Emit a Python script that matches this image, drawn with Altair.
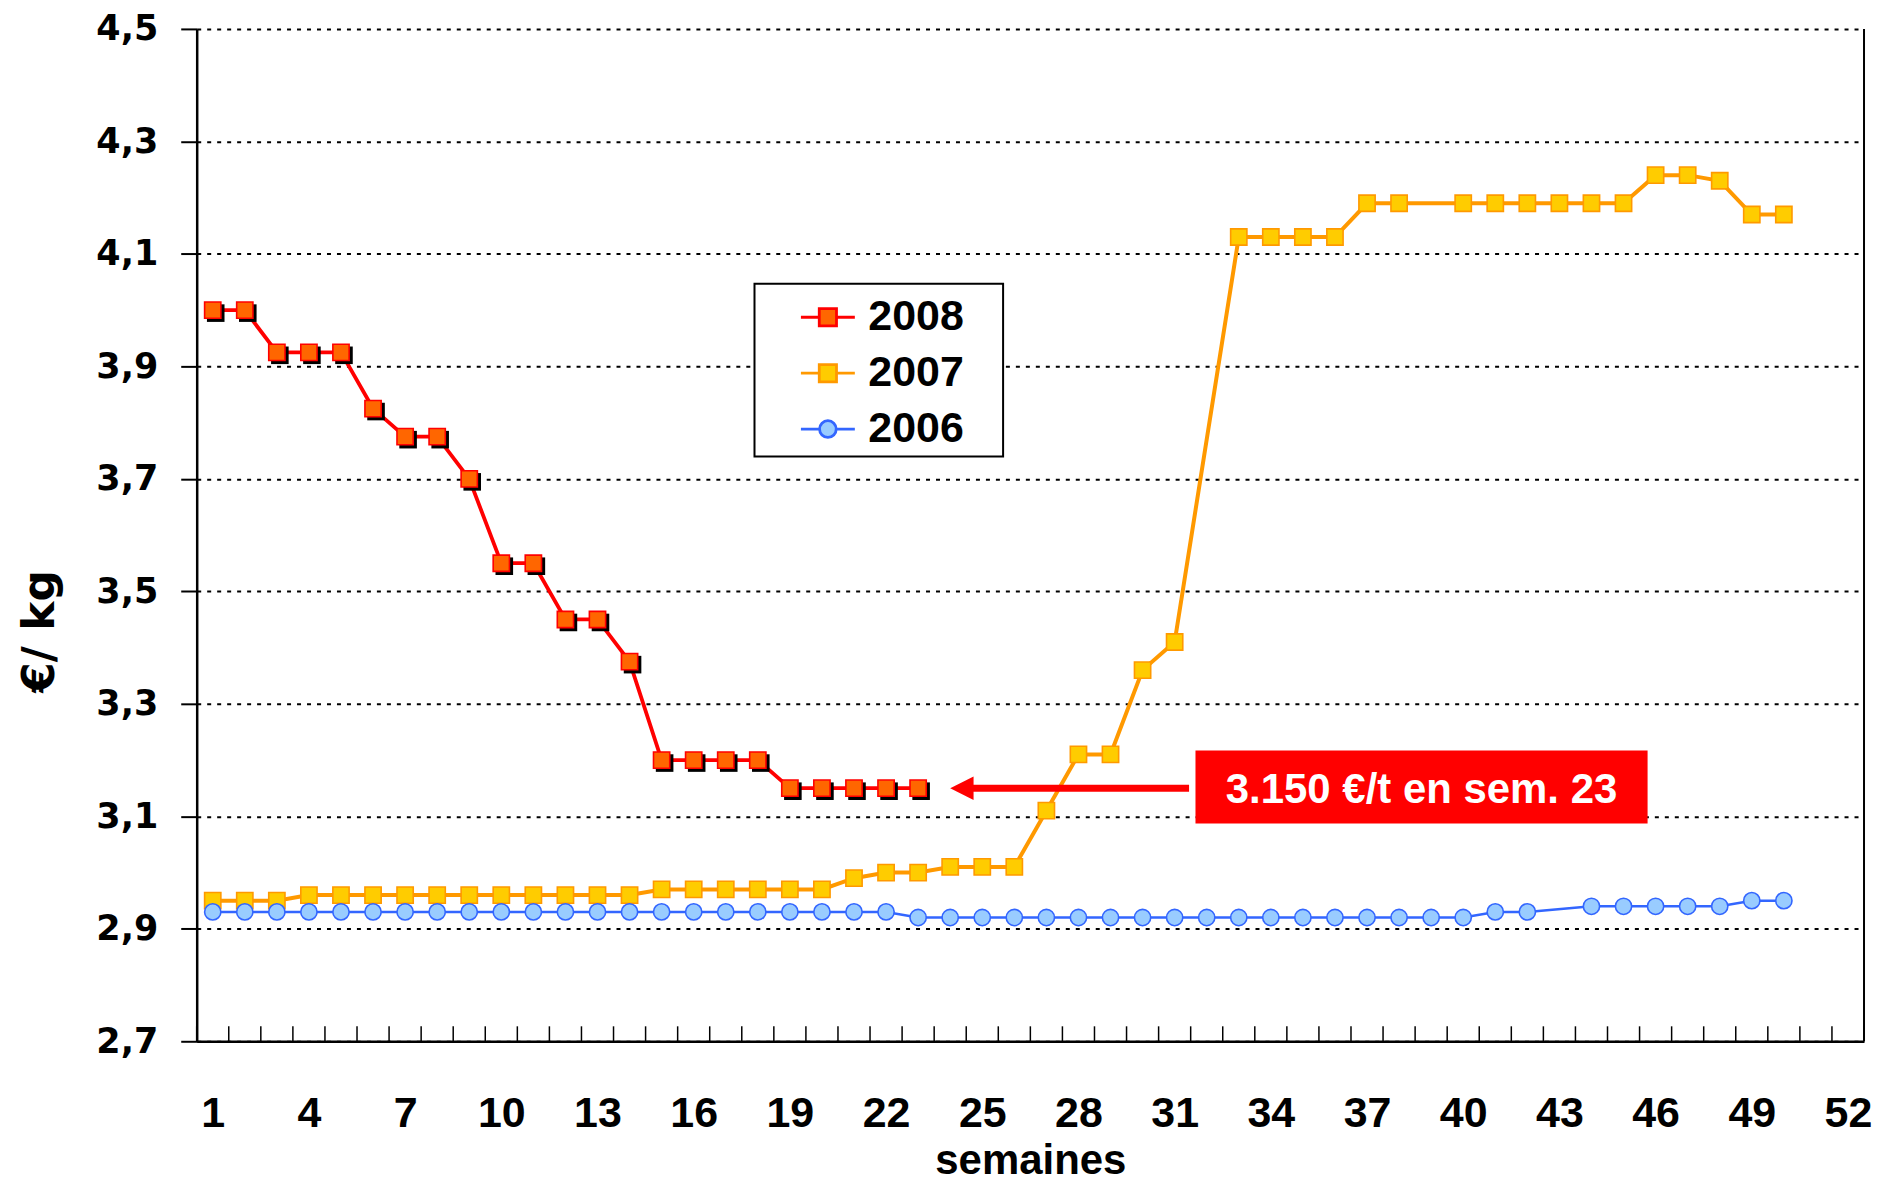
import altair as alt
import pandas as pd

# ---------------- data ----------------
annees = ["2008", "2007", "2006"]

semaines_2008 = list(range(1, 24))
prix_2008 = [4.00, 4.00, 3.925, 3.925, 3.925, 3.825, 3.775, 3.775, 3.70, 3.55,
             3.55, 3.45, 3.45, 3.375, 3.20, 3.20, 3.20, 3.20, 3.15, 3.15,
             3.15, 3.15, 3.15]

semaines_2007 = list(range(1, 32)) + list(range(33, 39)) + list(range(40, 51))
prix_2007 = [2.95, 2.95, 2.95,
             2.96, 2.96, 2.96, 2.96, 2.96, 2.96, 2.96, 2.96, 2.96, 2.96, 2.96,
             2.97, 2.97, 2.97, 2.97, 2.97, 2.97,
             2.99, 3.00, 3.00, 3.01, 3.01, 3.01, 3.11, 3.21, 3.21, 3.36, 3.41,
             4.13, 4.13, 4.13, 4.13, 4.19, 4.19,
             4.19, 4.19, 4.19, 4.19, 4.19, 4.19, 4.24, 4.24, 4.23, 4.17, 4.17]

semaines_2006 = list(range(1, 43)) + list(range(44, 51))
prix_2006 = [2.93] * 22 + [2.92] * 18 + [2.93, 2.93] + [2.94] * 5 + [2.95, 2.95]

couleurs_ligne = ["#FF0000", "#FF9900", "#3366FF"]
couleurs_remplissage = ["#FF6600", "#FFCC00", "#99CCFF"]
epaisseurs_ligne = [3.8, 4, 2.5]
marqueurs = ["square", "square", "circle"]

y_ticks = [2.7, 2.9, 3.1, 3.3, 3.5, 3.7, 3.9, 4.1, 4.3, 4.5]
x_ticks = list(range(1, 53, 3))
x_domaine = [0.5, 52.5]
y_domaine = [2.7, 4.5]

annotation_texte = "3.150 €/t en sem. 23"
annotation_prix = 3.15
fleche_semaine_pointe = 24
fleche_semaine_debut = 24.6
fleche_semaine_fin = 31.45
boite_semaines = [31.65, 45.75]
boite_prix = [3.087, 3.217]

# ---------------- tables ----------------
rows = []
for annee, sem, prix, marq in zip(annees, [semaines_2008, semaines_2007, semaines_2006],
                                  [prix_2008, prix_2007, prix_2006], marqueurs):
    for s, p in zip(sem, prix):
        rows.append({"semaine": s, "prix": p, "annee": annee, "marqueur": marq})
df = pd.DataFrame(rows)

limites = pd.DataFrame({"semaine": [s - 0.5 for s in range(1, 54)]})
bord = pd.DataFrame({"semaine": [x_domaine[1]]})
fleche = pd.DataFrame({"semaine": [fleche_semaine_debut], "semaine2": [fleche_semaine_fin],
                       "prix": [annotation_prix]})
pointe = pd.DataFrame({"semaine": [fleche_semaine_pointe], "prix": [annotation_prix]})
boite = pd.DataFrame({"semaine": [boite_semaines[0]], "semaine2": [boite_semaines[1]],
                      "prix": [boite_prix[0]], "prix2": [boite_prix[1]],
                      "centre": [(boite_semaines[0] + boite_semaines[1]) / 2],
                      "milieu": [annotation_prix], "texte": [annotation_texte]})

W, H = 1670, 1014

x_scale = alt.Scale(domain=x_domaine, nice=False, zero=False)
y_scale = alt.Scale(domain=y_domaine, nice=False, zero=False)

x_axis = alt.Axis(values=x_ticks, format="d", title="semaines", grid=False,
                  ticks=False, tickSize=0, domainColor="black", domainWidth=2.5,
                  labelFont="Liberation Sans", labelFontSize=43, labelFontWeight="bold",
                  labelColor="black", labelBaseline="alphabetic", labelPadding=85,
                  labelFlush=False, labelOverlap=False,
                  titleFont="Liberation Sans", titleFontSize=42, titleFontWeight="bold",
                  titleColor="black", titleBaseline="alphabetic", titleAlign="center",
                  titleX=W / 2, titleY=132)

y_axis = alt.Axis(values=y_ticks,
                  labelExpr="replace(format(datum.value, '.1f'), '.', ',')",
                  title="€/ kg", grid=True, gridColor="black", gridDash=[4, 6], gridWidth=2,
                  tickColor="black", tickSize=16, tickWidth=2,
                  domainColor="black", domainWidth=2.5,
                  labelFont="DejaVu Sans", labelFontSize=35, labelFontWeight="bold",
                  labelColor="black", labelPadding=23, labelFlush=False, labelOverlap=False,
                  titleFont="DejaVu Sans", titleFontSize=44, titleFontWeight="bold",
                  titleColor="black", titleAngle=270, titleAlign="center",
                  titleBaseline="middle", titleX=-156, titleY=603)

symbole = ("datum.value == '2006' ? "
           "'M-1,0H-0.31M0.31,0H1M0.31,0A0.31,0.31,0,1,1,-0.31,0A0.31,0.31,0,1,1,0.31,0Z' : "
           "'M-1,0H-0.32M0.32,0H1M-0.32,-0.32H0.32V0.32H-0.32Z'")

legende = alt.Legend(title="\u00a0", titleOrient="right", titlePadding=34, titleFontSize=2,
                     orient="none", legendX=558.7, legendY=255.3, padding=5,
                     symbolType=alt.ExprRef(expr=symbole), symbolSize=2916,
                     symbolStrokeWidth=2.8, symbolOffset=40, labelOffset=12,
                     labelFont="Liberation Sans", labelFontSize=43, labelFontWeight="bold",
                     labelColor="black",
                     strokeColor="black", fillColor="white", rowPadding=5, cornerRadius=0)

stroke_enc = alt.Stroke("annee:N", scale=alt.Scale(domain=annees, range=couleurs_ligne),
                        legend=legende)
fill_enc = alt.Fill("annee:N", scale=alt.Scale(domain=annees, range=couleurs_remplissage),
                    legend=legende)

X = alt.X("semaine:Q", scale=x_scale, axis=x_axis)
Y = alt.Y("prix:Q", scale=y_scale, axis=y_axis)
Xs = alt.X("semaine:Q", scale=x_scale, title="semaines")
Ys = alt.Y("prix:Q", scale=y_scale, title="€/ kg")

base = alt.Chart(df).encode(x=X, y=Y)

ticks_x = alt.Chart(limites).mark_rule(color="black", strokeWidth=1.5).encode(
    x=Xs, y=alt.value(H), y2=alt.value(H - 15))

bord_droit = alt.Chart(bord).mark_rule(color="black", strokeWidth=2).encode(x=Xs)

lignes = [
    base.transform_filter(alt.datum.annee == annee).mark_line(strokeWidth=ep).encode(
        stroke=stroke_enc)
    for annee, ep in zip(annees, epaisseurs_ligne)
]

ombre = base.transform_filter("datum.annee == '2008'").mark_point(
    filled=True, shape="square", size=310, color="black", opacity=1, xOffset=3, yOffset=3)

points = base.mark_point(filled=True, size=265, strokeWidth=1.6, opacity=1).encode(
    fill=fill_enc, stroke=stroke_enc,
    shape=alt.Shape("marqueur:N", scale=None, legend=None))

tige = alt.Chart(fleche).mark_rule(color="#FF0000", strokeWidth=7, strokeCap="butt").encode(
    x=Xs, x2="semaine2:Q", y=Ys)

tete = alt.Chart(pointe).mark_point(shape="M-1,0L1,-1L1,1Z", filled=True, color="#FF0000",
                                    size=548, opacity=1, strokeWidth=0, xOffset=11.7).encode(
    x=Xs, y=Ys)

rect = alt.Chart(boite).mark_rect(color="#FF0000").encode(
    x=Xs, x2="semaine2:Q", y=Ys, y2="prix2:Q")

texte = alt.Chart(boite).mark_text(font="Liberation Sans", fontSize=42, fontWeight="bold",
                                   color="white", baseline="alphabetic", align="center",
                                   dy=15).encode(
    x=alt.X("centre:Q", scale=x_scale, title="semaines"),
    y=alt.Y("milieu:Q", scale=y_scale, title="€/ kg"),
    text="texte:N")

chart = alt.layer(ticks_x, bord_droit, *lignes, ombre, points, tige, tete, rect, texte).properties(
    width=W, height=H,
    padding={"left": 189, "top": 20, "right": 8, "bottom": 142},
    autosize=alt.AutoSizeParams(type="none"),
    background="white",
).configure_view(stroke=None).configure_legend(strokeWidth=2)

chart.save("out.html", embed_options={"renderer": "svg", "actions": False})
